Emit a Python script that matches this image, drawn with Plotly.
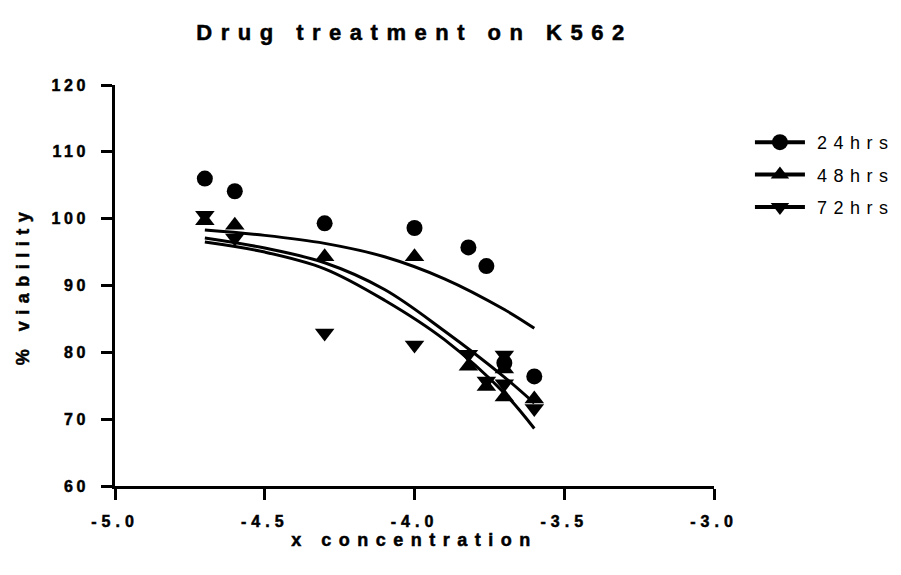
import plotly.graph_objects as go

# ---- data ----
conc_24 = [-4.7, -4.6, -4.3, -4.0, -3.82, -3.76, -3.7, -3.6]
via_24 = [106.0, 104.1, 99.3, 98.6, 95.7, 92.9, 78.4, 76.4]

conc_48 = [-4.7, -4.6, -4.3, -4.0, -3.82, -3.76, -3.7, -3.7, -3.6]
via_48 = [99.7, 99.0, 94.3, 94.3, 77.9, 74.9, 77.5, 73.3, 73.0]

conc_72 = [-4.7, -4.6, -4.3, -4.0, -3.82, -3.76, -3.7, -3.7, -3.6]
via_72 = [100.5, 97.1, 82.9, 81.1, 79.7, 75.7, 79.6, 75.3, 71.6]

fit_x = [-4.7, -4.5, -4.3, -4.1, -3.9, -3.7, -3.6]
fit_24 = [98.3, 97.5, 96.3, 94.3, 91.0, 86.4, 83.6]
fit_48 = [97.1, 95.6, 93.4, 89.4, 83.2, 76.3, 72.4]
fit_72 = [96.5, 95.0, 92.5, 87.8, 81.9, 73.9, 68.6]

series_names = ["24hrs", "48hrs", "72hrs"]
x_ticks = [-5.0, -4.5, -4.0, -3.5, -3.0]
x_tick_labels = ["-5.0", "-4.5", "-4.0", "-3.5", "-3.0"]
y_ticks = [60, 70, 80, 90, 100, 110, 120]
y_tick_labels = ["60", "70", "80", "90", "100", "110", "120"]

FONT = "Liberation Sans, Arial, sans-serif"
BLACK = "#000000"

series = [
    (series_names[0], conc_24, via_24, fit_24, "circle", 16),
    (series_names[1], conc_48, via_48, fit_48, "triangle-up", 17),
    (series_names[2], conc_72, via_72, fit_72, "triangle-down", 17),
]

fig = go.Figure()
for name, cx, cy, fy, sym, sz in series:
    fig.add_trace(go.Scatter(
        x=fit_x, y=fy, mode="lines", line=dict(color=BLACK, width=3, shape="spline"),
        showlegend=False, hoverinfo="skip", legendgroup=name))
    fig.add_trace(go.Scatter(
        x=cx, y=cy, mode="markers", marker=dict(symbol=sym, size=sz, color=BLACK),
        showlegend=False, legendgroup=name, name=name))
    fig.add_trace(go.Scatter(
        x=[None], y=[None], mode="lines+markers", name=name, legendgroup=name,
        line=dict(color=BLACK, width=4), marker=dict(symbol=sym, size=sz, color=BLACK)))

axis_common = dict(
    showline=True, linecolor=BLACK, linewidth=3, ticks="outside", ticklen=11,
    tickwidth=3, tickcolor=BLACK, showgrid=False, zeroline=False,
    tickfont=dict(family=FONT, size=16, color=BLACK),
)

fig.update_layout(
    width=901, height=575,
    paper_bgcolor="white", plot_bgcolor="white",
    margin=dict(l=115, r=187, t=85, b=89),
    title=dict(text="<b>Drug treatment on K562</b>", x=0.5, xref="paper", xanchor="center",
               y=1 - 32 / 575, yref="container", yanchor="middle",
               font=dict(family=FONT, size=22, color=BLACK)),
    xaxis=dict(range=[-5.0, -3.0], tickvals=x_ticks,
               ticktext=["<b>" + t + "</b>" for t in x_tick_labels],
               ticklabelstandoff=8,
               title=dict(text="<b>x concentration</b>", standoff=1,
                          font=dict(family=FONT, size=18, color=BLACK)),
               **axis_common),
    yaxis=dict(range=[60, 120], tickvals=y_ticks,
               ticktext=["<b>" + t + "</b>" for t in y_tick_labels],
               ticklabelstandoff=9,
               title=dict(text="<b>% viability</b>", standoff=28,
                          font=dict(family=FONT, size=18, color=BLACK)),
               **axis_common),
    legend=dict(x=1.06, xanchor="left", y=1 - (124 - 85) / 401, yanchor="top",
                font=dict(family=FONT, size=18, color=BLACK),
                itemwidth=50, tracegroupgap=6, bgcolor="rgba(0,0,0,0)"),
    showlegend=True,
)

css = ("body{margin:0} .scrollbox{clip-path:none !important} "
       ".gtitle{letter-spacing:8.5px} .xtitle,.ytitle{letter-spacing:7.5px} "
       ".ytitle{letter-spacing:6.5px} "
       ".xtick text{letter-spacing:5px} .ytick text{letter-spacing:3.5px} "
       ".gtitle,.xtitle,.ytitle,.xtick text,.ytick text{stroke:#000;stroke-width:0.5px} "
       ".legendtext{letter-spacing:6.5px;transform:translateX(7px)}")
post = ("var s=document.createElement('style');s.textContent='" + css +
        "';document.head.appendChild(s);")

fig.write_html("out.html", post_script=post, config={"displayModeBar": False})
